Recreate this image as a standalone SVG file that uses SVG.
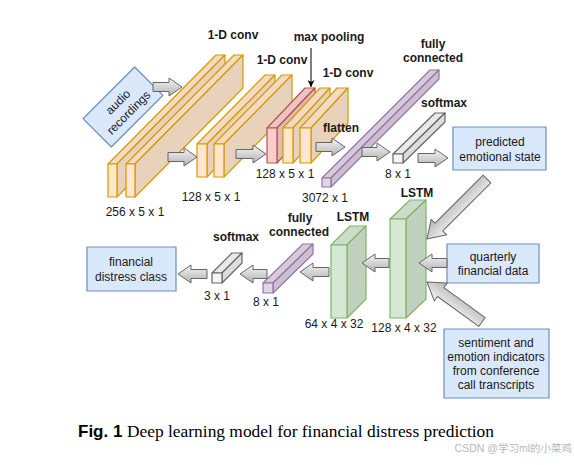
<svg xmlns="http://www.w3.org/2000/svg" width="574" height="465" viewBox="0 0 574 465">
<style>
text{font-family:"Liberation Sans",Arial,sans-serif;font-size:12px;fill:#1a1a1a;text-anchor:middle}
.b{font-weight:bold}
.or .f{fill:#ffe6cc}.or .t{fill:#f2dbc2}.or .s{fill:#e8d2bb}.or *{stroke:#d79b00}
.rd .f{fill:#f8cecc}.rd .t{fill:#ecc4c2}.rd .s{fill:#dfbab8}.rd *{stroke:#b85450}
.pu .f{fill:#e1d5e7}.pu .t{fill:#d6cbdb}.pu .s{fill:#cbc0d0}.pu *{stroke:#9673a6}
.gy .f{fill:#f5f5f5}.gy .t{fill:#e9e9e9}.gy .s{fill:#dddddd}.gy *{stroke:#666666}
.gr .f{fill:#d5e8d4}.gr .t{fill:#cadcca}.gr .s{fill:#c0d1bf}.gr *{stroke:#82b366}
polygon,rect{stroke-width:1.2;stroke-linejoin:round}
.box{fill:#dae8fc;stroke:#6c8ebf;stroke-width:1.2}
.arr{fill:url(#ag);stroke:#666666;stroke-width:1;stroke-linejoin:round}
</style>
<defs>
<linearGradient id="ag" x1="0" y1="0" x2="0" y2="1"><stop offset="0" stop-color="#f5f5f5"/><stop offset="1" stop-color="#b3b3b3"/></linearGradient>
<marker id="mh" viewBox="0 0 10 10" refX="10" refY="5" markerWidth="7" markerHeight="7" orient="auto"><path d="M0,0 L10,5 L0,10 L3,5 Z" fill="#000"/></marker>
</defs>
<rect width="574" height="465" fill="#fff"/>

<g id="audio" transform="translate(123,107) rotate(-45)">
<rect class="box" x="-36.5" y="-20" width="73" height="40"/>
<text x="0" y="-3">audio</text><text x="0" y="12">recordings</text>
</g>

<g id="conv1" class="or">
<polygon class="t" points="108,164 117,164 225,55 216,55"/><polygon class="s" points="117,164 117,197 225,88 225,55"/><rect class="f" x="108" y="164" width="9" height="33"/>
<polygon class="t" points="126,164 135,164 243,55 234,55"/><polygon class="s" points="135,164 135,197 243,88 243,55"/><rect class="f" x="126" y="164" width="9" height="33"/>
</g>
<g id="conv2" class="or">
<polygon class="t" points="197,144 207,144 275,75 265,75"/><polygon class="s" points="207,144 207,177 275,108 275,75"/><rect class="f" x="197" y="144" width="10" height="33"/>
<polygon class="t" points="214,144 224,144 292,75 282,75"/><polygon class="s" points="224,144 224,177 292,108 292,75"/><rect class="f" x="214" y="144" width="10" height="33"/>
</g>
<g id="maxpool" class="rd">
<polygon class="t" points="267,128 277,128 315,88 305,88"/><polygon class="s" points="277,128 277,163 315,123 315,88"/><rect class="f" x="267" y="128" width="10" height="35"/>
</g>
<g id="conv3" class="or">
<polygon class="t" points="283,128 293,128 330,88 320,88"/><polygon class="s" points="293,128 293,163 330,123 330,88"/><rect class="f" x="283" y="128" width="10" height="35"/>
<polygon class="t" points="300,128 311,128 348,88 337,88"/><polygon class="s" points="311,128 311,163 348,123 348,88"/><rect class="f" x="300" y="128" width="11" height="35"/>
</g>
<g id="fc1" class="pu">
<polygon class="t" points="322,178 331,178 439,70 430,70"/><polygon class="s" points="331,178 331,187 439,79 439,70"/><rect class="f" x="322" y="178" width="9" height="9"/>
</g>
<g id="softmax1" class="gy">
<polygon class="t" points="393,154 403,154 445,113 435,113"/><polygon class="s" points="403,154 403,163 445,122 445,113"/><rect class="f" x="393" y="154" width="10" height="9"/>
</g>
<g id="predicted">
<rect class="box" x="453" y="127" width="93" height="43"/>
<text x="500" y="146">predicted</text><text x="500" y="161">emotional state</text>
</g>
<g id="lstm1" class="gr">
<polygon class="t" points="390,219 406,219 426,200 410,200"/><polygon class="s" points="406,219 406,318 426,299 426,200"/><rect class="f" x="390" y="219" width="16" height="99"/>
</g>
<g id="lstm2" class="gr">
<polygon class="t" points="331,245 347,245 366,226 350,226"/><polygon class="s" points="347,245 347,318 366,299 366,226"/><rect class="f" x="331" y="245" width="16" height="73"/>
</g>
<g id="fc2" class="pu">
<polygon class="t" points="263,283 273,283 313,244 303,244"/><polygon class="s" points="273,283 273,293 313,254 313,244"/><rect class="f" x="263" y="283" width="10" height="10"/>
</g>
<g id="softmax2" class="gy">
<polygon class="t" points="212,273 222,273 242,253 232,253"/><polygon class="s" points="222,273 222,283 242,263 242,253"/><rect class="f" x="212" y="273" width="10" height="10"/>
</g>
<g id="quarterly">
<rect class="box" x="447" y="244" width="92" height="39"/>
<text x="493" y="261">quarterly</text><text x="493" y="275">financial data</text>
</g>
<g id="sentiment">
<rect class="box" x="444" y="329" width="105" height="69"/>
<text x="496" y="347">sentiment and</text><text x="496" y="361">emotion indicators</text><text x="496" y="375">from conference</text><text x="496" y="389">call transcripts</text>
</g>
<g id="distress">
<rect class="box" x="87" y="247" width="89" height="44"/>
<text x="131" y="266">financial</text><text x="131" y="281">distress class</text>
</g>

<g id="connectors">
<path class="arr" d="M153,82.5 H169 V78 L182,87 L169,96 V91.5 H153 Z"/>
<path class="arr" d="M168,152.5 H184 V148 L197,157 L184,166 V161.5 H168 Z"/>
<path class="arr" d="M236,149.5 H253 V145 L266,154 L253,163 V158.5 H236 Z"/>
<path class="arr" d="M316,142.5 H332 V138 L345,147 L332,156 V151.5 H316 Z"/>
<path class="arr" d="M362,147.5 H377 V143 L390,152 L377,161 V156.5 H362 Z"/>
<path class="arr" d="M418,153.5 H435 V149 L448,158 L435,167 V162.5 H418 Z"/>
<path class="arr" d="M447,258.5 H432 V254 L419,263 L432,272 V267.5 H447 Z"/>
<path class="arr" d="M389,258.5 H375 V254 L362,263 L375,272 V267.5 H389 Z"/>
<path class="arr" d="M329,267.5 H313 V263 L300,272 L313,281 V276.5 H329 Z"/>
<path class="arr" d="M267,269.5 H253 V265 L240,274 L253,283 V278.5 H267 Z"/>
<path class="arr" d="M207,269.5 H191 V265 L178,274 L191,283 V278.5 H207 Z"/>
<path class="arr" transform="translate(487,179) rotate(135)" d="M0,-5.5 H68 V-11 L85,0 L68,11 V5.5 H0 Z"/>
<path class="arr" transform="translate(482,322) rotate(-144)" d="M0,-5.5 H51 V-11 L68,0 L51,11 V5.5 H0 Z"/>
<line x1="311" y1="48" x2="311" y2="87" stroke="#000" stroke-width="1" marker-end="url(#mh)"/>
</g>

<g id="labels">
<text class="b" x="233" y="39">1-D conv</text>
<text class="b" x="282" y="64">1-D conv</text>
<text class="b" x="329" y="41">max pooling</text>
<text class="b" x="348" y="77">1-D conv</text>
<text class="b" x="341" y="132">flatten</text>
<text class="b" x="433" y="48">fully</text><text class="b" x="433" y="62">connected</text>
<text class="b" x="444" y="107">softmax</text>
<text x="135" y="216">256 x 5 x 1</text>
<text x="211" y="201">128 x 5 x 1</text>
<text x="285" y="178">128 x 5 x 1</text>
<text x="325" y="202">3072 x 1</text>
<text x="398" y="178">8 x 1</text>
<text class="b" x="417" y="197">LSTM</text>
<text class="b" x="353" y="221">LSTM</text>
<text x="334" y="328">64 x 4 x 32</text>
<text x="404" y="332">128 x 4 x 32</text>
<text class="b" x="300" y="222">fully</text><text class="b" x="299" y="236">connected</text>
<text x="266" y="306">8 x 1</text>
<text class="b" x="236" y="241">softmax</text>
<text x="217" y="300">3 x 1</text>
</g>

<g id="caption">
<text x="78" y="437" style="text-anchor:start;font-weight:bold;font-size:17px;fill:#000">Fig. 1</text>
<text x="127" y="437" style="text-anchor:start;font-family:'Liberation Serif','Times New Roman',serif;font-size:17.4px;fill:#000">Deep learning model for financial distress prediction</text>
<text x="572" y="452" style="text-anchor:end;font-size:10.5px;fill:#b8b8b8;font-family:'Liberation Sans','Noto Sans CJK SC',sans-serif">CSDN @学习ml的小菜鸡</text>
</g>
</svg>
